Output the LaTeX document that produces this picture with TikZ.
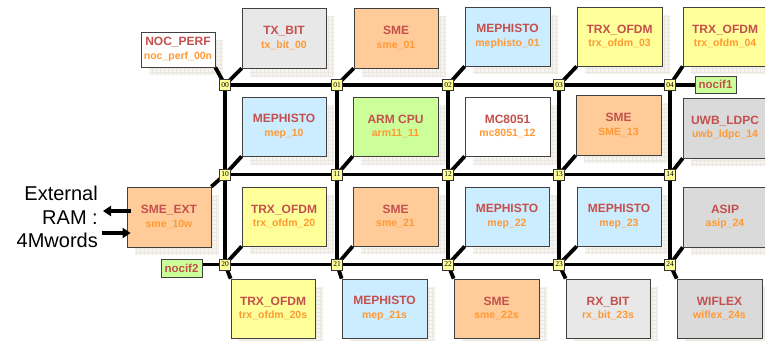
\documentclass[tikz,border=0pt]{standalone}
\usepackage{fontspec}
\setmainfont{Liberation Sans}
\newfontfamily\routerfont{Liberation Serif}
\usetikzlibrary{arrows.meta}
\definecolor{peach}{HTML}{FFCC99}
\definecolor{lblue}{HTML}{CCECFF}
\definecolor{lyellow}{HTML}{FFFF99}
\definecolor{lgreen}{HTML}{CCFF99}
\definecolor{lgrey}{HTML}{E8E8E8}
\definecolor{dgrey}{HTML}{DADADA}
\definecolor{titlecol}{HTML}{C4504D}
\definecolor{subcol}{HTML}{FF9933}
\definecolor{boxline}{HTML}{404040}
\definecolor{shadowfill}{HTML}{F5F4F0}
\definecolor{shadowgrid}{HTML}{EAE8E1}
\pgfdeclarelayer{bottom}
\pgfdeclarelayer{background}
\pgfdeclarelayer{wires}
\pgfsetlayers{bottom,background,wires,main}
\tikzset{
  ipbox/.style={draw=boxline, line width=0.7pt, inner sep=0pt, align=center,
    text=titlecol, font=\bfseries\fontsize{12}{13.5}\selectfont},
  router/.style={draw=black!80, fill=lyellow, line width=0.6pt, minimum size=11pt,
    inner sep=0pt, font=\routerfont\fontsize{7.5}{8}\selectfont},
  nocif/.style={draw=boxline, fill=lgreen, line width=0.7pt, inner sep=0pt,
    text=titlecol, font=\bfseries\fontsize{11.5}{12}\selectfont},
  wire/.style={line width=3.8pt, black},
  ifwire/.style={line width=3.2pt, black},
  ramarrow/.style={line width=3.2pt, black, -{Triangle[length=8pt,width=10pt]}},
}
\newcommand\ipbox[8]{%
  \node[ipbox, fill=#6, minimum width={#4pt-#2pt}, minimum height={#5pt-#3pt}]
    (#1) at ({(#2+#4)/2},{(#3+#5)/2})
    {#7\\{\fontsize{10.5}{13.5}\selectfont\color{subcol}#8}};%
  \begin{pgfonlayer}{background}
    \begin{scope}
      \clip ([shift={(8,8)}]#1.north west) rectangle ([shift={(8,8)}]#1.south east);
      \fill[shadowfill] ([shift={(8,8)}]#1.north west) rectangle ([shift={(8,8)}]#1.south east);
      \draw[shadowgrid, line width=0.3pt, step=4pt] ([shift={(8,8)}]#1.north west) grid ([shift={(8,8)}]#1.south east);
    \end{scope}
  \end{pgfonlayer}}
\begin{document}
\begin{tikzpicture}[x=1pt,y=-1pt]
\useasboundingbox (0,0) rectangle (765,340);
\begin{pgfonlayer}{bottom}
  \fill[white] (0,0) rectangle (765,340);
\end{pgfonlayer}

% routers
\foreach \c/\x in {0/225,1/337,2/448,3/559,4/670}{
  \node[router] (r0\c) at (\x,85) {0\c};
  \node[router] (r1\c) at (\x,174.5) {1\c};
  \node[router] (r2\c) at (\x,264.5) {2\c};
}

% top row
\ipbox{nocperf}{141}{32}{215}{67}{white}{NOC\_PERF}{noc\_perf\_00n}
\ipbox{txbit}{242}{8}{326}{68}{lgrey}{TX\_BIT}{tx\_bit\_00}
\ipbox{sme01}{354}{8}{438}{68}{peach}{SME}{sme\_01}
\ipbox{meph01}{465}{7}{550}{66}{lblue}{MEPHISTO}{mephisto\_01}
\ipbox{trx03}{577}{7}{662}{66}{lyellow}{TRX\_OFDM}{trx\_ofdm\_03}
\ipbox{trx04}{683}{7}{767}{66}{lyellow}{TRX\_OFDM}{trx\_ofdm\_04}
% middle row 1
\ipbox{mep10}{242}{97}{326}{156}{lblue}{MEPHISTO}{mep\_10}
\ipbox{arm11}{353}{97}{438}{156}{lgreen}{ARM CPU}{arm11\_11}
\ipbox{mc12}{465}{97}{550}{156}{white}{MC8051}{mc8051\_12}
\ipbox{sme13}{576}{95}{661}{155}{peach}{SME}{SME\_13}
\ipbox{uwb14}{683}{98}{767}{158}{dgrey}{UWB\_LDPC}{uwb\_ldpc\_14}
% middle row 2
\ipbox{smeext}{127}{187}{211}{247}{peach}{SME\_EXT}{sme\_10w}
\ipbox{trx20}{242}{187}{326}{246}{lyellow}{TRX\_OFDM}{trx\_ofdm\_20}
\ipbox{sme21}{353}{187}{438}{246}{peach}{SME}{sme\_21}
\ipbox{mep22}{465}{187}{549}{246}{lblue}{MEPHISTO}{mep\_22}
\ipbox{mep23}{577}{187}{661}{246}{lblue}{MEPHISTO}{mep\_23}
\ipbox{asip24}{683}{187}{767}{247}{dgrey}{ASIP}{asip\_24}
% bottom row
\ipbox{trx20s}{231}{279}{315}{338}{lyellow}{TRX\_OFDM}{trx\_ofdm\_20s}
\ipbox{mep21s}{342}{279}{427}{338}{lblue}{MEPHISTO}{mep\_21s}
\ipbox{sme22s}{454}{279}{539}{338}{peach}{SME}{sme\_22s}
\ipbox{rxbit23s}{566}{279}{650}{338}{lgrey}{RX\_BIT}{rx\_bit\_23s}
\ipbox{wiflex24s}{677}{279}{762}{338}{dgrey}{WIFLEX}{wiflex\_24s}

% network interfaces
\node[nocif, minimum width=41pt, minimum height=17pt] (nocif1) at (715.5,84.5) {nocif1};
\node[nocif, minimum width=41pt, minimum height=18pt] (nocif2) at (181.5,268) {nocif2};

% external RAM
\node[anchor=east, align=right, inner sep=0pt, font=\fontsize{20}{23.5}\selectfont]
  (ram) at (98,217) {External\\RAM :\\4Mwords};
\coordinate (ramout) at (103,211);
\coordinate (ramin) at (102,233);
\draw[ramarrow] ([xshift=4pt]smeext.west |- ramout) -- (ramout);
\draw[ramarrow] (ramin) -- ([xshift=4pt]smeext.west |- ramin);

\begin{pgfonlayer}{wires}
  % mesh
  \foreach \r in {0,1,2}{
    \draw[wire] (r\r0.center) -- (r\r1.center) -- (r\r2.center) -- (r\r3.center) -- (r\r4.center);
  }
  \foreach \c in {0,...,4}{
    \draw[wire] (r0\c.center) -- (r1\c.center) -- (r2\c.center);
  }
  % interfaces
  \draw[ifwire] (r04.center) -- (r04.center -| nocif1.west);
  \draw[ifwire] (r20.center) -- (r20.center -| nocif2.east);
  % ip links
  \draw[wire] (r00.center) -- (nocperf.south east);
  \draw[wire] (r00.center) -- (txbit.south west);
  \draw[wire] (r01.center) -- (sme01.south west);
  \draw[wire] (r02.center) -- (meph01.south west);
  \draw[wire] (r03.center) -- (trx03.south west);
  \draw[wire] (r04.center) -- (trx04.south west);
  \draw[wire] (r10.center) -- (mep10.south west);
  \draw[wire] (r11.center) -- (arm11.south west);
  \draw[wire] (r12.center) -- (mc12.south west);
  \draw[wire] (r13.center) -- (sme13.south west);
  \draw[wire] (r14.center) -- (uwb14.south west);
  \draw[wire] (r10.center) -- (smeext.north east);
  \draw[wire] (r20.center) -- (trx20.south west);
  \draw[wire] (r21.center) -- (sme21.south west);
  \draw[wire] (r22.center) -- (mep22.south west);
  \draw[wire] (r23.center) -- (mep23.south west);
  \draw[wire] (r24.center) -- (asip24.south west);
  \draw[wire] (r20.center) -- (trx20s.north west);
  \draw[wire] (r21.center) -- (mep21s.north west);
  \draw[wire] (r22.center) -- (sme22s.north west);
  \draw[wire] (r23.center) -- (rxbit23s.north west);
  \draw[wire] (r24.center) -- (wiflex24s.north west);
\end{pgfonlayer}
\end{tikzpicture}
\end{document}
